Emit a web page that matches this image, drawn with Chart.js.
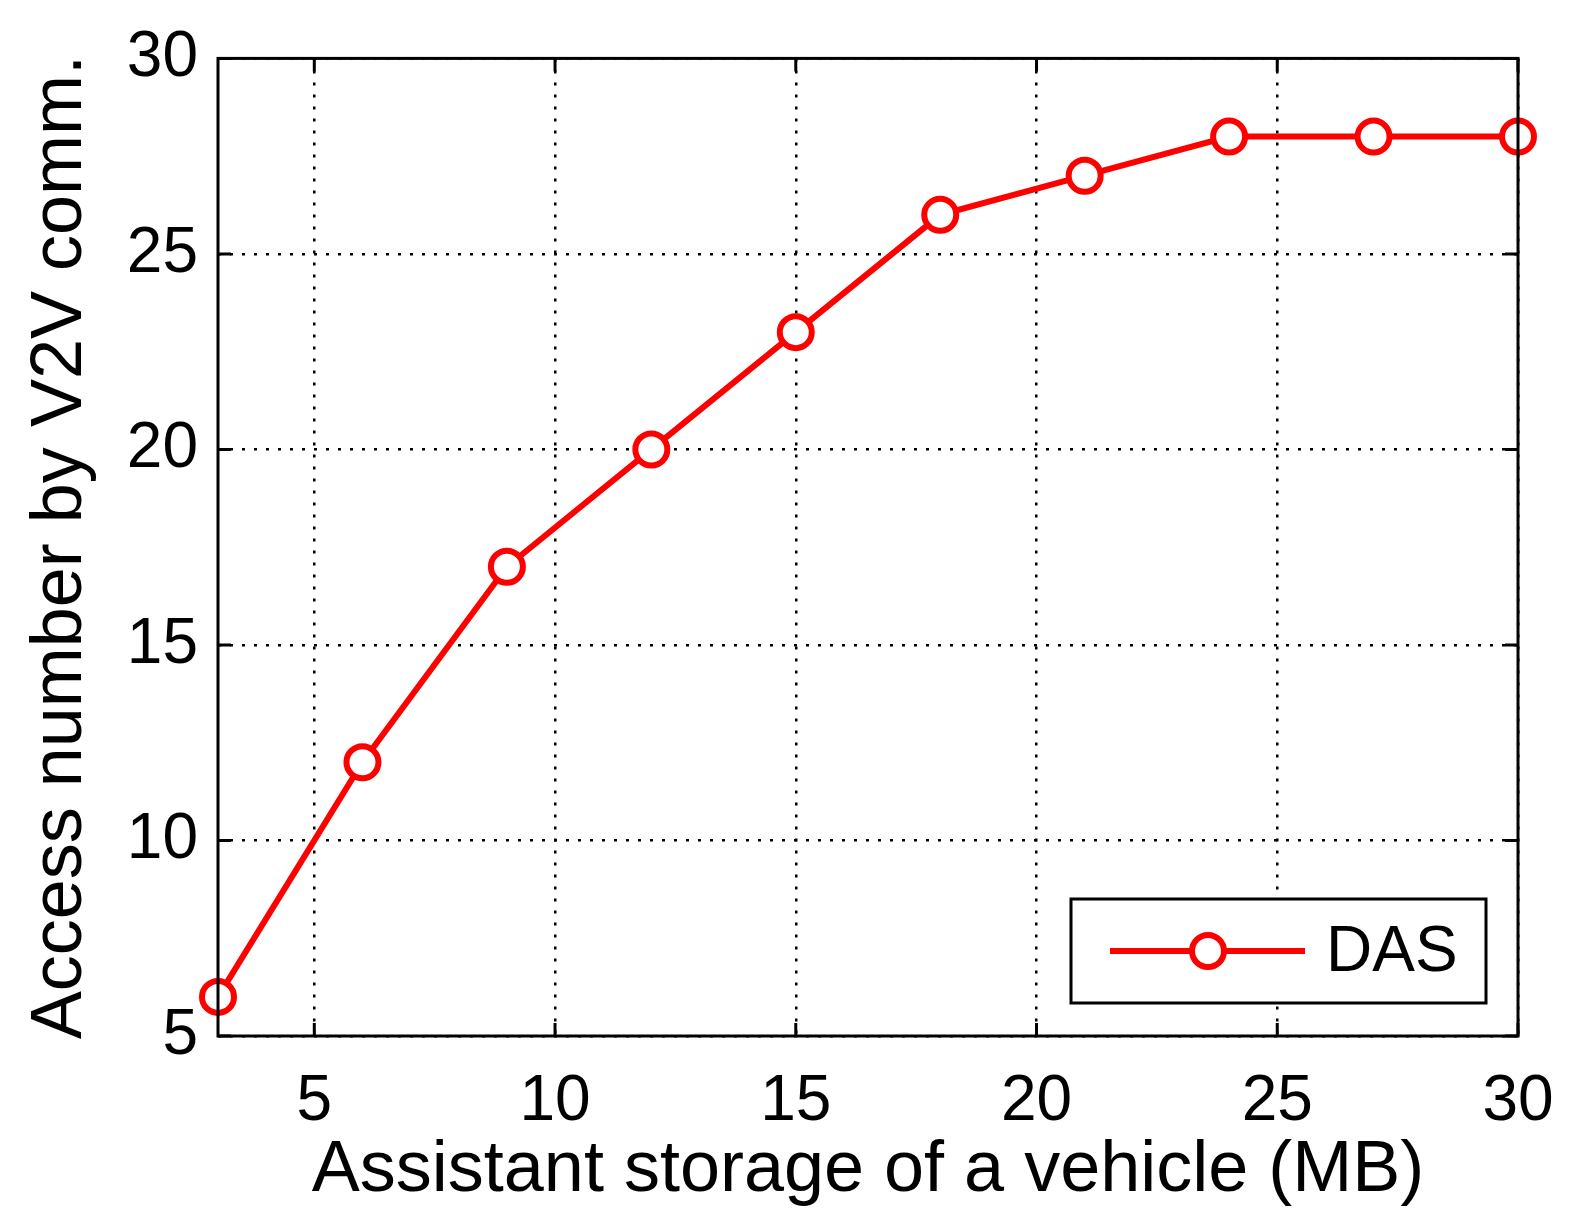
<!DOCTYPE html>
<html>
<head>
<meta charset="utf-8">
<script src="https://cdn.jsdelivr.net/npm/chart.js@4"></script>
<style>
  html, body { margin: 0; padding: 0; background: #fff; }
  #wrap { width: 1571px; height: 1218px; }
</style>
</head>
<body>
<div id="wrap"><canvas id="chart" width="1571" height="1218"></canvas></div>
<script>
// Chart data
const storageMB = [3, 6, 9, 12, 15, 18, 21, 24, 27, 30];
const accessDAS = [6, 12, 17, 20, 23, 26, 27, 28, 28, 28];
const xTicks = [5, 10, 15, 20, 25, 30];
const yTicks = [5, 10, 15, 20, 25, 30];

const FONT = 'Liberation Sans, Arial, sans-serif';

// Box frame, inward tick marks and the legend box
const framePlugin = {
    id: 'frame',
    afterDraw(chart) {
        const { ctx, chartArea: a, scales } = chart;
        ctx.save();
        ctx.strokeStyle = '#000';
        ctx.lineWidth = 3;
        ctx.strokeRect(a.left, a.top, a.right - a.left, a.bottom - a.top);
        const len = 13;
        ctx.beginPath();
        xTicks.forEach(v => {
            const x = scales.x.getPixelForValue(v);
            ctx.moveTo(x, a.bottom); ctx.lineTo(x, a.bottom - len);
            ctx.moveTo(x, a.top); ctx.lineTo(x, a.top + len);
        });
        yTicks.forEach(v => {
            const y = scales.y.getPixelForValue(v);
            ctx.moveTo(a.left, y); ctx.lineTo(a.left + len, y);
            ctx.moveTo(a.right, y); ctx.lineTo(a.right - len, y);
        });
        ctx.stroke();

        // legend
        const bx = 1071, by = 899, bw = 415, bh = 104;
        ctx.fillStyle = '#fff';
        ctx.fillRect(bx, by, bw, bh);
        ctx.lineWidth = 3;
        ctx.strokeRect(bx, by, bw, bh);
        const ly = by + bh / 2;
        ctx.strokeStyle = '#ff0000';
        ctx.lineWidth = 6;
        ctx.beginPath();
        ctx.moveTo(1110, ly); ctx.lineTo(1305, ly);
        ctx.stroke();
        ctx.beginPath();
        ctx.arc(1208, ly, 16, 0, Math.PI * 2);
        ctx.fillStyle = '#fff';
        ctx.fill();
        ctx.stroke();
        ctx.fillStyle = '#000';
        ctx.font = '64px ' + FONT;
        ctx.textBaseline = 'middle';
        ctx.textAlign = 'left';
        ctx.fillText('DAS', 1326, ly + 2);
        ctx.restore();
    }
};

const gridStyle = {
    color: '#000',
    lineWidth: 2.5,
    drawTicks: false
};

new Chart(document.getElementById('chart'), {
    type: 'line',
    data: {
        datasets: [{
            label: 'DAS',
            data: storageMB.map((x, i) => ({ x: x, y: accessDAS[i] })),
            borderColor: '#ff0000',
            borderWidth: 6,
            pointRadius: 16,
            pointBorderWidth: 6,
            pointBackgroundColor: '#fff',
            pointBorderColor: '#ff0000',
            tension: 0,
            clip: false
        }]
    },
    options: {
        responsive: false,
        animation: false,
        layout: { padding: { top: 55, right: 53, left: 0, bottom: 0 } },
        plugins: { legend: { display: false }, tooltip: { enabled: false } },
        scales: {
            x: {
                type: 'linear',
                min: 3,
                max: 30,
                afterBuildTicks: s => { s.ticks = xTicks.map(v => ({ value: v })); },
                afterFit: s => { s.height = 182; s.paddingRight = 0; },
                border: { display: false, dash: [3, 9] },
                grid: gridStyle,
                ticks: { color: '#000', padding: 28, font: { family: FONT, size: 64 } },
                title: {
                    display: true,
                    text: 'Assistant storage of a vehicle (MB)',
                    color: '#000',
                    font: { family: FONT, size: 72 },
                    padding: { top: 0 }
                }
            },
            y: {
                min: 5,
                max: 30,
                afterBuildTicks: s => { s.ticks = yTicks.map(v => ({ value: v })); },
                afterFit: s => { s.width = 218; },
                border: { display: false, dash: [3, 9] },
                grid: gridStyle,
                ticks: { color: '#000', padding: 20, font: { family: FONT, size: 64 } },
                title: {
                    display: true,
                    text: 'Access number by V2V comm.',
                    color: '#000',
                    font: { family: FONT, size: 72 },
                    padding: { top: 18, bottom: 0 }
                }
            }
        }
    },
    plugins: [framePlugin]
});
</script>
</body>
</html>
